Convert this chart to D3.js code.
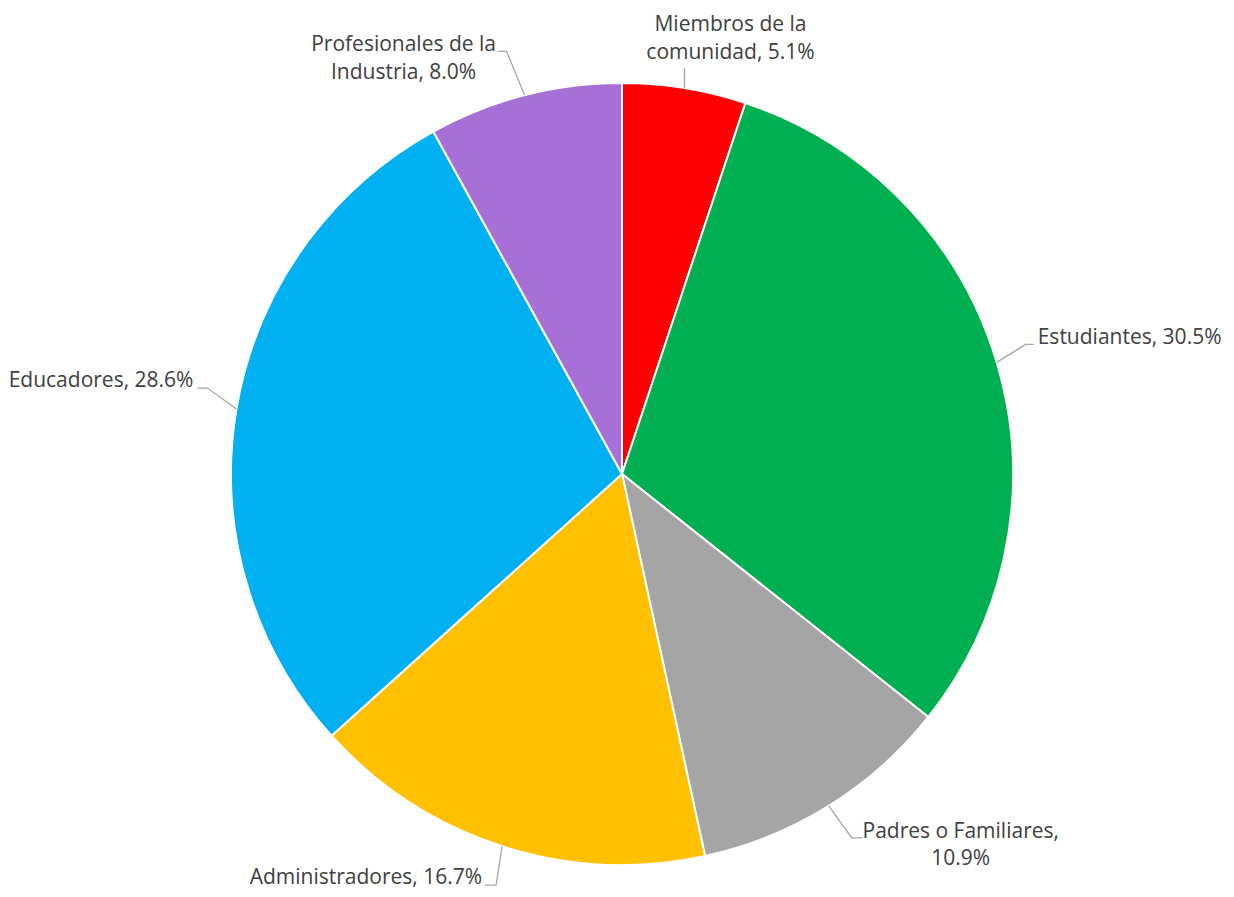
<!DOCTYPE html>
<html>
<head>
<meta charset="utf-8">
<script src="https://cdn.jsdelivr.net/npm/d3@7"></script>
<style>
  html, body { margin: 0; padding: 0; background: #ffffff; }
  svg { display: block; }
</style>
</head>
<body>
<svg id="chart" width="1234" height="897"></svg>
<script>
// ---- data ----
const categories = ["Miembros de la comunidad", "Estudiantes", "Padres o Familiares", "Administradores", "Educadores", "Profesionales de la Industria"];
const values = [5.1, 30.5, 10.9, 16.7, 28.6, 8.0];
const labelLines = [
  ["Miembros de la", "comunidad, 5.1%"],
  ["Estudiantes, 30.5%"],
  ["Padres o Familiares,", "10.9%"],
  ["Administradores, 16.7%"],
  ["Educadores, 28.6%"],
  ["Profesionales de la", "Industria, 8.0%"]
];
const colors = ["#FF0000", "#00B050", "#A5A5A5", "#FFC000", "#00B0F0", "#A770D6"];

// ---- layout (offsets from the arc point where each leader starts) ----
const labelLayout = [
  { leader: [[0, -20]], anchor: "middle", dx: 46, dy: -57 },
  { leader: [[29, -18], [37, -18]], anchor: "start", dx: 41, dy: -18 },
  { leader: [[23, 32], [34, 32]], anchor: "middle", dx: 132, dy: 32 },
  { leader: [[-6, 39], [-17, 39]], anchor: "end", dx: -20, dy: 38 },
  { leader: [[-29, -21], [-39, -21]], anchor: "end", dx: -43, dy: -22 },
  { leader: [[-18, -44], [-27, -44]], anchor: "middle", dx: -121, dy: -44 }
];

const cx = 622, cy = 474, R = 391;
const lineHeight = 27.5;

const svg = d3.select("#chart");
const g = svg.append("g").attr("transform", `translate(${cx},${cy})`);

const data = categories.map((c, i) => ({ name: c, value: values[i], i }));
const pie = d3.pie().value(d => d.value).sort(null);
const arcs = pie(data);
const arc = d3.arc().innerRadius(0).outerRadius(R);

g.selectAll("path.slice")
  .data(arcs)
  .enter().append("path")
  .attr("class", "slice")
  .attr("d", arc)
  .attr("fill", d => colors[d.data.i])
  .attr("stroke", "#ffffff")
  .attr("stroke-width", 2)
  .attr("stroke-linejoin", "round");

const outerPt = d3.arc().innerRadius(R).outerRadius(R);

arcs.forEach(a => {
  const i = a.data.i;
  const [ax, ay] = outerPt.centroid(a);
  const L = labelLayout[i];
  const pts = [[ax, ay]].concat(L.leader.map(p => [ax + p[0], ay + p[1]]));
  g.append("path")
    .attr("d", d3.line()(pts))
    .attr("fill", "none")
    .attr("stroke", "#A6A6A6")
    .attr("stroke-width", 1.3);
  const t = g.append("text")
    .attr("text-anchor", L.anchor)
    .attr("font-family", "'Open Sans', 'Segoe UI', sans-serif")
    .attr("font-size", 21)
    .attr("fill", "#404040");
  labelLines[i].forEach((ln, k) => {
    t.append("tspan")
      .attr("x", ax + L.dx)
      .attr("y", ay + L.dy + k * lineHeight)
      .text(ln);
  });
});
</script>
</body>
</html>
